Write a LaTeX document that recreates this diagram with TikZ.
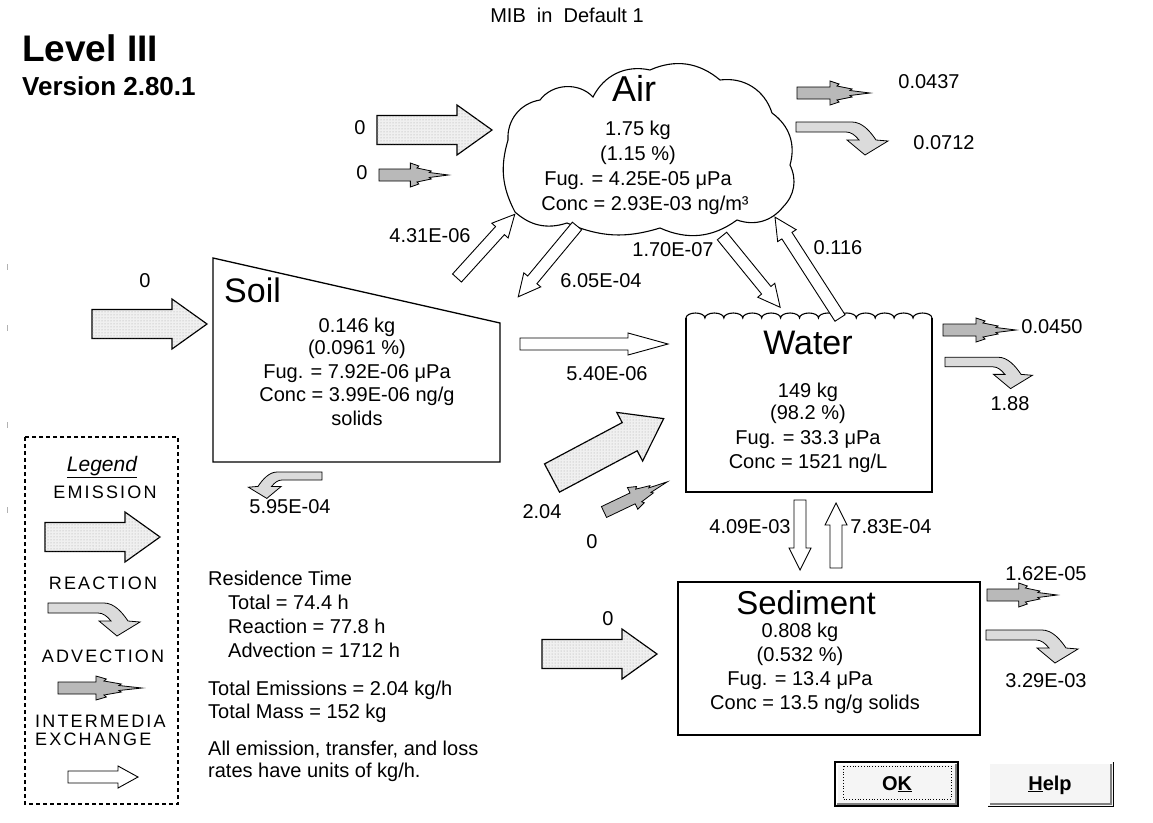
\documentclass[tikz,border=0pt]{standalone}
\usepackage{fontspec}
\setmainfont{Liberation Sans}
\newfontfamily\legfont[LetterSpace=12]{Liberation Sans}
\usetikzlibrary{patterns}
\tikzset{
  txt/.style={font=\fontsize{20}{24}\selectfont, inner sep=0, anchor=base},
  big/.style={font=\fontsize{34}{40}\selectfont, inner sep=0, anchor=base},
  leg/.style={font=\legfont\fontsize{18}{20}\selectfont, inner sep=0, anchor=base},
  emis/.style={draw=black, line width=1.2, fill=gray!12, postaction={pattern=dots, pattern color=gray!70}},
  advc/.style={draw=black, line width=0.8, fill=gray!55},
  reac/.style={draw=black, line width=0.8, fill=gray!28},
  xchg/.style={draw=black, line width=0.9, fill=white},
  boxline/.style={draw=black, line width=1.3},
}
% x y angle scale
\newcommand\emisarrow[4]{\path[emis, shift={(#1,#2)}, rotate=#3, scale=#4]
  (0,-14.5) -- (80,-14.5) -- (80,-25) -- (115,0) -- (80,25) -- (80,14.5) -- (0,14.5) -- cycle;}
% x y angle xscale
\newcommand\advarrow[4]{\path[advc, shift={(#1,#2)}, rotate=#3, xscale=#4]
  (0,-6)--(33,-6)--(33,-12)--(42,-9)--(40,-7)--(55,-4)--(53,-2.5)--(73,0)--(53,2.5)--(55,4)--(40,7)--(42,9)--(33,12)--(33,6)--(0,6)--cycle;}
% x y xscale yscale
\newcommand\reacarrow[4]{\path[reac, shift={(#1,#2)}, xscale=#3, yscale=#4]
  (0,-5) -- (56,-5) .. controls (66,-5) and (74,4) .. (80,13) -- (92,14) -- (69,28) -- (51,13) -- (63,13) .. controls (59,8) and (55,5) .. (50,5) -- (0,5) -- cycle;}
% x y angle length headlength
\newcommand\xcharrow[5]{\path[xchg, shift={(#1,#2)}, rotate=#3]
  (0,-6) -- ({#4-#5},-6) -- ({#4-#5},-11) -- (#4,0) -- ({#4-#5},11) -- ({#4-#5},6) -- (0,6) -- cycle;}
\begin{document}
\begin{tikzpicture}[x=1pt,y=-1pt]
\useasboundingbox (0,0) rectangle (1153,822);
\fill[white] (0,0) rectangle (1153,822);
% edge marks
\foreach \yy in {267,328,425,510} \draw[gray!60, line width=1] (7,\yy-3) -- (7,\yy+3);

% titles
\node[txt, anchor=base west, font=\bfseries\fontsize{37}{42}\selectfont] (lvl) at (22,61) {Level III};
\node[txt, anchor=base west, font=\bfseries\fontsize{26}{30}\selectfont] (ver) at (22,95) {Version 2.80.1};
\node[txt] (mib) at (567,22) {MIB\ \ in\ \ Default 1};

% ---------------- Air
\draw[line width=1.1] (515,212) to[bend left=22] (508,140) to[bend left=42] (540,100)
  to[bend left=50] (593,97) to[bend left=38] (650,70) to[bend left=32] (720,80)
  to[bend left=40] (772,113) to[bend left=35] (790,165) to[bend left=35] (783,207)
  to[bend left=35] (737,220) to[bend left=30] (660,228) to[bend left=20] (567,223)
  to[bend left=30] (515,212) -- cycle;
\coordinate (air) at (651,153);
\node[big, anchor=base west, font=\fontsize{36}{40}\selectfont] (airlbl) at (612,101) {Air};
\node[txt] (airm) at (638,135) {1.75 kg};
\node[txt] (airp) at (638,160) {(1.15 \%)};
\node[txt] (airf) at (638,185) {Fug. = 4.25E-05 μPa};
\node[txt] (airc) at (645,210) {Conc = 2.93E-03 ng/m³};
\emisarrow{377}{130}{0}{1}
\node[txt] (e_air) at (360,134) {0};
\advarrow{379}{175}{0}{0.95}
\node[txt] (a_air) at (362,179) {0};
\advarrow{797}{93}{0}{1}
\node[txt] (ao_air) at (929,88) {0.0437};
\reacarrow{796}{127}{1}{1}
\node[txt] (r_air) at (944,149) {0.0712};

% ---------------- Soil
\draw[boxline] (213,258) -- (500,323) -- (500,462) -- (213,462) -- cycle;
\node[big, anchor=base west] (soillbl) at (224,302) {Soil};
\node[txt] (soilm) at (357,332) {0.146 kg};
\node[txt] (soilp) at (357,354) {(0.0961 \%)};
\node[txt] (soilf) at (357,378) {Fug. = 7.92E-06 μPa};
\node[txt] (soilc) at (357,401) {Conc = 3.99E-06 ng/g};
\node[txt] (soils) at (357,425) {solids};
\emisarrow{92}{324}{0}{1}
\node[txt] (e_soil) at (145,287) {0};
\reacarrow{322}{476}{-0.8}{0.8}
\node[txt] (r_soil) at (290,513) {5.95E-04};

% ---------------- Water
\draw[boxline] (686,318) -- (686,492) -- (932,492) -- (932,318);
\draw[line width=1.1] (686,318) foreach \i in {1,...,13} { arc[start angle=180, end angle=360, x radius=9.46, y radius=5] };
\node[big] (waterlbl) at (808,354) {Water};
\node[txt] (waterm) at (808,397) {149 kg};
\node[txt] (waterp) at (808,419) {(98.2 \%)};
\node[txt] (waterf) at (808,444) {Fug. = 33.3 μPa};
\node[txt] (waterc) at (808,468) {Conc = 1521 ng/L};
\emisarrow{552}{478}{28}{1.1}
\node[txt] (e_water) at (542,518) {2.04};
\advarrow{604}{512}{25.5}{0.96}
\node[txt] (a_water) at (592,548) {0};
\advarrow{943}{330}{0}{1}
\node[txt] (ao_water) at (1052,333) {0.0450};
\reacarrow{945}{362}{0.95}{0.95}
\node[txt] (r_water) at (1010,410) {1.88};

% ---------------- Sediment
\draw[boxline] (678,582) rectangle (980,735);
\node[big, font=\fontsize{33}{38}\selectfont] (sedlbl) at (806,614) {Sediment};
\node[txt] (sedm) at (800,637) {0.808 kg};
\node[txt] (sedp) at (800,661) {(0.532 \%)};
\node[txt] (sedf) at (800,685) {Fug. = 13.4 μPa};
\node[txt] (sedc) at (815,709) {Conc = 13.5 ng/g solids};
\emisarrow{542}{654}{0}{1}
\node[txt] (e_sed) at (608,625) {0};
\advarrow{987}{595}{0}{0.96}
\node[txt] (ao_sed) at (1046,580) {1.62E-05};
\reacarrow{986}{635}{1}{1}
\node[txt] (r_sed) at (1046,687) {3.29E-03};

% ---------------- intermedia exchange
\xcharrow{520}{344}{0}{148}{40}
\node[txt] (x_sw) at (607,380) {5.40E-06};
\xcharrow{457}{278}{47.8}{86}{22}
\node[txt] (x_sa) at (430,242) {4.31E-06};
\xcharrow{577}{226}{230.3}{92}{22}
\node[txt] (x_as) at (601,287) {6.05E-04};
\xcharrow{722}{236}{-50.8}{92}{22}
\node[txt] (x_aw) at (673,256) {1.70E-07};
\xcharrow{840}{318}{122.8}{120}{22}
\node[txt] (x_wa) at (838,254) {0.116};
\xcharrow{800}{500}{-90}{70}{22}
\node[txt] (x_wsed) at (750,533) {4.09E-03};
\xcharrow{836}{568}{90}{65}{22}
\node[txt] (x_sedw) at (891,533) {7.83E-04};

% ---------------- residence block
\node[txt, anchor=base west] (rt) at (208,585) {Residence Time};
\node[txt, anchor=base west] (rt1) at (228,609) {Total = 74.4 h};
\node[txt, anchor=base west] (rt2) at (228,633) {Reaction = 77.8 h};
\node[txt, anchor=base west] (rt3) at (228,657) {Advection = 1712 h};
\node[txt, anchor=base west] (te) at (208,695) {Total Emissions = 2.04 kg/h};
\node[txt, anchor=base west] (tm) at (208,718) {Total Mass = 152 kg};
\node[txt, anchor=base west] (n1) at (208,755) {All emission, transfer, and loss};
\node[txt, anchor=base west] (n2) at (208,777) {rates have units of kg/h.};

% ---------------- legend
\draw[line width=1.2, dash pattern=on 4pt off 3pt] (25,437) rectangle (178,804);
\node[txt, font=\itshape\fontsize{21}{24}\selectfont] (legt) at (102,471) {\underline{Legend}};
\node[leg] (lemis) at (105,498) {EMISSION};
\emisarrow{45}{537}{0}{1}
\node[leg] (lreac) at (103,589) {REACTION};
\reacarrow{48}{608}{1}{1}
\node[leg] (ladv) at (103,662) {ADVECTION};
\advarrow{58}{688}{0}{1.15}
\node[leg, anchor=base west] (linter) at (35,727) {INTERMEDIA};
\node[leg, anchor=base west] (lexch) at (35,745) {EXCHANGE};
\xcharrow{68}{777}{0}{70}{20}

% ---------------- buttons
\fill[gray!8] (835,762) rectangle (958,806);
\draw[black, line width=1.2] (835,762) rectangle (958,806);
\draw[white, line width=1.5] (837,804) -- (837,764) -- (956,764);
\draw[gray, line width=1.5] (837,804) -- (956,804) -- (956,764);
\draw[black, line width=0.8, dotted] (843,766) rectangle (951,799);
\node[txt, font=\bfseries\fontsize{20}{24}\selectfont] (okb) at (897,790) {O\underline{K}};
\fill[gray!8] (988,762) rectangle (1113,806);
\draw[white, line width=1.5] (989,805) -- (989,763) -- (1112,763);
\draw[gray, line width=1.5] (990,804) -- (1111,804) -- (1111,764);
\draw[black, line width=1] (988,806) -- (1113,806) -- (1113,762);
\node[txt, font=\bfseries\fontsize{20}{24}\selectfont] (helpb) at (1050,790) {\underline{H}elp};
\end{tikzpicture}
\end{document}
